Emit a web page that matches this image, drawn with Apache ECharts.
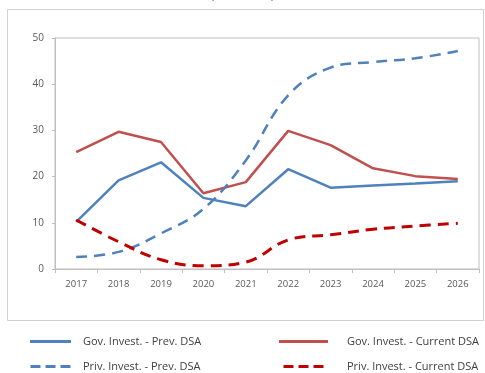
<!DOCTYPE html>
<html>
<head>
<meta charset="utf-8">
<script src="https://cdn.jsdelivr.net/npm/echarts@6/dist/echarts.min.js"></script>
<style>
  html, body { margin: 0; padding: 0; background: #ffffff; }
  #chart { width: 485px; height: 373px; }
</style>
</head>
<body>
<div id="chart"></div>
<script>
// Investment paths, percent of GDP
const years = ['2017', '2018', '2019', '2020', '2021', '2022', '2023', '2024', '2025', '2026'];
const govPrev = [10.2, 19.2, 23.1, 15.4, 13.6, 21.6, 17.6, 18.1, 18.5, 19.0];
const govCurrent = [25.3, 29.7, 27.5, 16.4, 18.8, 29.9, 26.8, 21.8, 20.1, 19.5];
const privPrev = [2.6, 3.7, 7.7, 13.0, 23.5, 37.6, 43.6, 44.8, 45.6, 47.2];
const privCurrent = [10.6, 5.9, 2.0, 0.7, 1.5, 6.3, 7.4, 8.6, 9.3, 9.9];
const yTicks = { min: 0, max: 50, step: 10 };

const names = {
  govPrev: 'Gov. Invest. - Prev. DSA',
  govCurrent: 'Gov. Invest. - Current DSA',
  privPrev: 'Priv. Invest. - Prev. DSA',
  privCurrent: 'Priv. Invest. - Current DSA'
};

const BLUE = '#4F81BD';
const RED = '#C0504D';
const DARK_RED = '#C00000';
const AXIS_GRAY = '#bfbfbf';
const LABEL = '#595959';
const FONT = '"Open Sans", "Noto Sans", sans-serif';

// legend keys: a solid bar, or three dashes
const SOLID_ICON = 'rect';
const DASH_ICON = 'path://M0,0h10v3h-10z M15,0h10v3h-10z M30,0h10v3h-10z';

const chart = echarts.init(document.getElementById('chart'), null, { renderer: 'canvas' });

function line(name, data, color, width, dashed, smooth) {
  return {
    name: name,
    type: 'line',
    data: data,
    symbol: 'none',
    smooth: smooth,
    lineStyle: { color: color, width: width, type: dashed ? [11, 7] : 'solid', cap: 'butt' },
    itemStyle: { color: color },
    emphasis: { disabled: true },
    animation: false
  };
}

const legendText = { color: '#404040', fontSize: 11, fontFamily: FONT };

chart.setOption({
  backgroundColor: '#ffffff',
  animation: false,
  graphic: [
    {
      type: 'rect',
      shape: { x: 7.5, y: 9.5, width: 476, height: 311 },
      style: { fill: 'none', stroke: '#d0d0d0', lineWidth: 1 },
      z: -1
    },
    {
      type: 'text',
      left: 'center',
      top: -11,
      style: { text: '(% of GDP)', fill: BLUE, font: '13px ' + FONT }
    }
  ],
  legend: [
    {
      orient: 'vertical',
      left: 30,
      top: 336,
      padding: 0,
      height: 60,
      itemWidth: 41,
      itemHeight: 3,
      itemGap: 14,
      textStyle: Object.assign({ padding: [0, 0, 0, 7] }, legendText),
      data: [
        { name: names.govPrev, icon: SOLID_ICON },
        { name: names.privPrev, icon: DASH_ICON }
      ],
      selectedMode: false
    },
    {
      orient: 'vertical',
      left: 279,
      top: 336,
      padding: 0,
      height: 60,
      itemWidth: 49,
      itemHeight: 3,
      itemGap: 14,
      textStyle: Object.assign({ padding: [0, 0, 0, 14] }, legendText),
      data: [
        { name: names.govCurrent, icon: SOLID_ICON },
        { name: names.privCurrent, icon: DASH_ICON }
      ],
      selectedMode: false
    }
  ],
  grid: {
    left: 55,
    right: 6,
    top: 38,
    bottom: 104,
    show: true,
    borderColor: AXIS_GRAY,
    borderWidth: 1,
    containLabel: false
  },
  xAxis: {
    type: 'category',
    data: years,
    boundaryGap: true,
    axisLine: { show: true, lineStyle: { color: AXIS_GRAY, width: 1 } },
    axisTick: { show: true, length: 4, alignWithLabel: false, lineStyle: { color: AXIS_GRAY } },
    axisLabel: { color: LABEL, fontSize: 9.5, fontFamily: FONT, margin: 10 },
    splitLine: { show: false }
  },
  yAxis: {
    type: 'value',
    min: yTicks.min,
    max: yTicks.max,
    interval: yTicks.step,
    axisLine: { show: true, lineStyle: { color: AXIS_GRAY, width: 1 } },
    axisTick: { show: true, length: 3, lineStyle: { color: AXIS_GRAY } },
    axisLabel: { color: LABEL, fontSize: 10, fontFamily: FONT, margin: 11 },
    splitLine: { show: false }
  },
  series: [
    line(names.govPrev, govPrev, BLUE, 2.5, false, false),
    line(names.govCurrent, govCurrent, RED, 2.5, false, false),
    line(names.privPrev, privPrev, BLUE, 2.5, true, 0.4),
    line(names.privCurrent, privCurrent, DARK_RED, 3, true, 0.4)
  ]
});
</script>
</body>
</html>
